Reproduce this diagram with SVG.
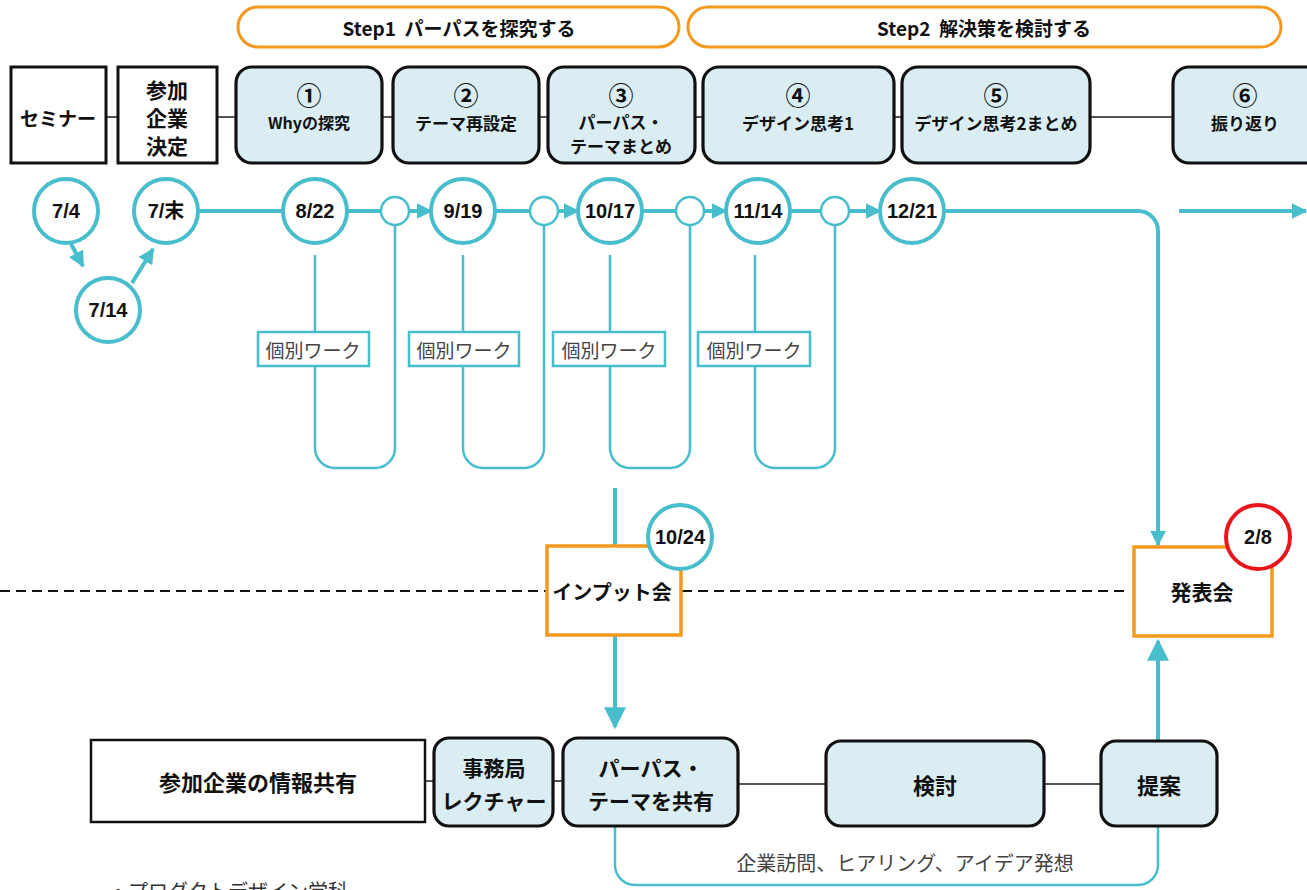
<svg xmlns="http://www.w3.org/2000/svg" width="1307" height="890" viewBox="0 0 1307 890">
<defs>
<style>
.jp{font-family:"Noto Sans CJK JP","Noto Sans",sans-serif;}
.b{font-weight:bold;}
.t{text-anchor:middle;dominant-baseline:central;fill:#111;}
.num{font-family:"Noto Sans CJK JP","Noto Sans",sans-serif;font-size:25px;font-weight:bold;text-anchor:middle;dominant-baseline:central;fill:#111;}
.date{font-family:"Liberation Sans","Noto Sans CJK JP",sans-serif;font-size:20px;font-weight:bold;text-anchor:middle;dominant-baseline:central;fill:#111;}
.banner{fill:#fff;stroke:#F39A1E;stroke-width:3;}
.sq{fill:#fff;stroke:#111;stroke-width:3;}
.rb{fill:#DAEDF3;stroke:#111;stroke-width:3.2;}
.ev{fill:#fff;stroke:#F39A1E;stroke-width:3.5;}
.dc{fill:#fff;stroke:#48BDCC;stroke-width:4;}
.sc{fill:#fff;stroke:#48BDCC;stroke-width:2.5;}
.tl{fill:none;stroke:#48BDCC;stroke-width:4;}
.lp{fill:none;stroke:#48BDCC;stroke-width:2.5;}
.gl{fill:none;stroke:#555;stroke-width:1.8;}
.kb{fill:#fff;stroke:#48BDCC;stroke-width:2.5;}
.kt{font-size:19px;fill:#444;text-anchor:middle;dominant-baseline:central;}
</style>
<marker id="ah" viewBox="0 0 10 10" refX="9" refY="5" markerWidth="4" markerHeight="4" orient="auto" markerUnits="strokeWidth">
<path d="M0,0 L10,5 L0,10 z" fill="#48BDCC"/>
</marker>
<marker id="ah2" viewBox="0 0 10 10" refX="9" refY="5" markerWidth="5.5" markerHeight="5.5" orient="auto" markerUnits="strokeWidth">
<path d="M0,0 L10,5 L0,10 z" fill="#48BDCC"/>
</marker>
</defs>
<rect width="1307" height="890" fill="#fff"/>

<!-- connectors -->
<g id="connectors">
  <path class="gl" d="M106,117 H118 M217,117 H236 M382,117 H393 M539,117 H548 M695,117 H703 M894,117 H902 M1090,117 H1173"/>
  <path class="gl" d="M425,781 H434 M553,781 H563 M738,784 H826 M1044,784 H1101"/>
  <path d="M0,591 H547 M682,591 H1128" fill="none" stroke="#111" stroke-width="2" stroke-dasharray="10,6"/>
  <path class="tl" d="M71,244 L83,266" marker-end="url(#ah)"/>
  <path class="tl" d="M132,283 L153,249" marker-end="url(#ah)"/>
  <path class="tl" d="M199,211 H283"/>
  <path class="tl" d="M348,211 H381"/>
  <path class="tl" d="M409,211 H431" marker-end="url(#ah)"/>
  <path class="tl" d="M495,211 H530"/>
  <path class="tl" d="M558,211 H578" marker-end="url(#ah)"/>
  <path class="tl" d="M642,211 H676"/>
  <path class="tl" d="M704,211 H726" marker-end="url(#ah)"/>
  <path class="tl" d="M790,211 H821"/>
  <path class="tl" d="M849,211 H880" marker-end="url(#ah)"/>
  <path class="tl" d="M944,211 H1138 A20,20 0 0 1 1158,231 V545" marker-end="url(#ah)"/>
  <path class="tl" d="M1179,211 H1306" marker-end="url(#ah)"/>
  <path class="lp" d="M315,255 V332 M315,366 V448 A20,20 0 0 0 335,468 H375 A20,20 0 0 0 395,448 V225"/>
  <path class="lp" d="M463,255 V332 M463,366 V448 A20,20 0 0 0 483,468 H524 A20,20 0 0 0 544,448 V225"/>
  <path class="lp" d="M610,255 V332 M610,366 V448 A20,20 0 0 0 630,468 H670 A20,20 0 0 0 690,448 V225"/>
  <path class="lp" d="M755,255 V332 M755,366 V448 A20,20 0 0 0 775,468 H815 A20,20 0 0 0 835,448 V225"/>
  <path class="tl" d="M615,488 V546" stroke-width="3"/>
  <path class="tl" d="M615,636 V727" stroke-width="3" marker-end="url(#ah2)"/>
  <path class="tl" d="M1158,741 V641" stroke-width="3" marker-end="url(#ah2)"/>
  <path class="lp" d="M615,826 V865 A20,20 0 0 0 635,885 H1138 A20,20 0 0 0 1158,865 V826" stroke-width="3"/>
</g>

<g id="step1">
  <rect class="banner" x="238" y="7" width="441" height="40" rx="20"/>
  <text class="jp b t" x="459" y="27" font-size="19" xml:space="preserve">Step1  パーパスを探究する</text>
</g>
<g id="step2">
  <rect class="banner" x="688" y="7" width="593" height="40" rx="20"/>
  <text class="jp b t" x="984" y="27" font-size="19" xml:space="preserve">Step2  解決策を検討する</text>
</g>

<g id="seminar">
  <rect class="sq" x="11" y="67" width="95" height="96"/>
  <text class="jp b t" x="58" y="117" font-size="19">セミナー</text>
</g>
<g id="decide">
  <rect class="sq" x="118" y="67" width="99" height="96"/>
  <text class="jp b t" x="167" y="89" font-size="21">参加</text>
  <text class="jp b t" x="167" y="117" font-size="21">企業</text>
  <text class="jp b t" x="167" y="145" font-size="21">決定</text>
</g>
<g id="s1">
  <rect class="rb" x="236" y="67" width="146" height="96" rx="16"/>
  <text class="num" x="309" y="94">①</text>
  <text class="jp b t" x="309" y="122" font-size="16">Whyの探究</text>
</g>
<g id="s2">
  <rect class="rb" x="393" y="67" width="146" height="96" rx="16"/>
  <text class="num" x="466" y="94">②</text>
  <text class="jp b t" x="466" y="122" font-size="17">テーマ再設定</text>
</g>
<g id="s3">
  <rect class="rb" x="548" y="67" width="147" height="96" rx="16"/>
  <text class="num" x="621" y="94">③</text>
  <text class="jp b t" x="621" y="121" font-size="17">パーパス・</text>
  <text class="jp b t" x="621" y="145" font-size="17">テーマまとめ</text>
</g>
<g id="s4">
  <rect class="rb" x="703" y="67" width="191" height="96" rx="16"/>
  <text class="num" x="798" y="94">④</text>
  <text class="jp b t" x="798" y="122" font-size="17">デザイン思考1</text>
</g>
<g id="s5">
  <rect class="rb" x="902" y="67" width="188" height="96" rx="16"/>
  <text class="num" x="996" y="94">⑤</text>
  <text class="jp b t" x="996" y="122" font-size="17">デザイン思考2まとめ</text>
</g>
<g id="s6">
  <rect class="rb" x="1173" y="67" width="150" height="96" rx="16"/>
  <text class="num" x="1245" y="94">⑥</text>
  <text class="jp b t" x="1245" y="122" font-size="17">振り返り</text>
</g>

<g id="d74"><circle class="dc" cx="66" cy="211" r="32"/><text class="date" x="66" y="211">7/4</text></g>
<g id="d7e"><circle class="dc" cx="166" cy="211" r="32"/><text class="date" x="166" y="211">7/末</text></g>
<g id="d714"><circle class="dc" cx="108" cy="310" r="32"/><text class="date" x="108" y="310">7/14</text></g>
<g id="d822"><circle class="dc" cx="315" cy="211" r="32"/><text class="date" x="315" y="211">8/22</text></g>
<g id="c1"><circle class="sc" cx="395" cy="211" r="14"/></g>
<g id="d919"><circle class="dc" cx="463" cy="211" r="32"/><text class="date" x="463" y="211">9/19</text></g>
<g id="c2"><circle class="sc" cx="544" cy="211" r="14"/></g>
<g id="d1017"><circle class="dc" cx="610" cy="211" r="32"/><text class="date" x="610" y="211">10/17</text></g>
<g id="c3"><circle class="sc" cx="690" cy="211" r="14"/></g>
<g id="d1114"><circle class="dc" cx="758" cy="211" r="32"/><text class="date" x="758" y="211">11/14</text></g>
<g id="c4"><circle class="sc" cx="835" cy="211" r="14"/></g>
<g id="d1221"><circle class="dc" cx="912" cy="211" r="32"/><text class="date" x="912" y="211">12/21</text></g>

<g id="w1"><rect class="kb" x="258" y="332" width="111" height="34"/><text class="jp kt" x="313" y="349">個別ワーク</text></g>
<g id="w2"><rect class="kb" x="409" y="332" width="110" height="34"/><text class="jp kt" x="464" y="349">個別ワーク</text></g>
<g id="w3"><rect class="kb" x="553" y="332" width="112" height="34"/><text class="jp kt" x="609" y="349">個別ワーク</text></g>
<g id="w4"><rect class="kb" x="698" y="332" width="112" height="34"/><text class="jp kt" x="754" y="349">個別ワーク</text></g>

<g id="input">
  <rect class="ev" x="547" y="546" width="134" height="89"/>
  <text class="jp b t" x="612" y="591" font-size="20">インプット会</text>
  <circle class="dc" cx="680" cy="537" r="32"/>
  <text class="date" x="680" y="537">10/24</text>
</g>
<g id="present">
  <rect class="ev" x="1134" y="547" width="138" height="89"/>
  <text class="jp b t" x="1202" y="591" font-size="21">発表会</text>
  <circle cx="1258" cy="537" r="32" fill="#fff" stroke="#E8161C" stroke-width="4"/>
  <text class="date" x="1258" y="537">2/8</text>
</g>

<g id="share">
  <rect x="91" y="740" width="334" height="82" fill="#fff" stroke="#111" stroke-width="2.5"/>
  <text class="jp b t" x="258" y="781" font-size="22">参加企業の情報共有</text>
</g>
<g id="lecture">
  <rect class="rb" x="434" y="738" width="119" height="88" rx="15"/>
  <text class="jp b t" x="494" y="767" font-size="21">事務局</text>
  <text class="jp b t" x="494" y="800" font-size="21">レクチャー</text>
</g>
<g id="purpose">
  <rect class="rb" x="563" y="738" width="175" height="88" rx="15"/>
  <text class="jp b t" x="651" y="767" font-size="21">パーパス・</text>
  <text class="jp b t" x="651" y="800" font-size="21">テーマを共有</text>
</g>
<g id="review">
  <rect class="rb" x="826" y="741" width="218" height="85" rx="15"/>
  <text class="jp b t" x="935" y="784" font-size="22">検討</text>
</g>
<g id="proposal">
  <rect class="rb" x="1101" y="741" width="116" height="85" rx="15"/>
  <text class="jp b t" x="1159" y="784" font-size="22">提案</text>
</g>

<text class="jp" x="905" y="862" font-size="20" fill="#444" text-anchor="middle" dominant-baseline="central">企業訪問、ヒアリング、アイデア発想</text>
<text class="jp" x="108" y="899" font-size="20" fill="#333">・プロダクトデザイン学科</text>
</svg>
